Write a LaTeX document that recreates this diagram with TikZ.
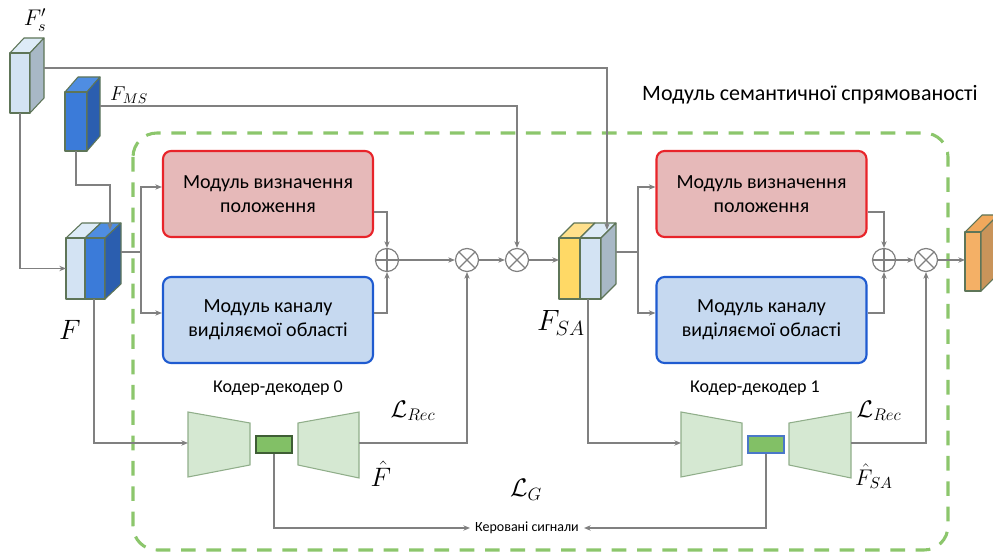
\RequirePackage{fix-cm}
\documentclass[tikz,border=0pt]{standalone}
\usepackage{fontspec}
\setmainfont{Carlito}
\usetikzlibrary{arrows.meta,calc}

\definecolor{linegray}{HTML}{808080}
\definecolor{edgegreen}{HTML}{5E7558}
\definecolor{paleblue}{HTML}{D3E3F3}
\definecolor{paleblueTop}{HTML}{DDEBF7}
\definecolor{paleblueSide}{HTML}{A8B8C6}
\definecolor{msblue}{HTML}{3B7BD9}
\definecolor{msblueTop}{HTML}{4F8DE2}
\definecolor{msblueSide}{HTML}{2B5EAF}
\definecolor{saYellow}{HTML}{FFD966}
\definecolor{saYellowTop}{HTML}{FFE08C}
\definecolor{outOrange}{HTML}{F4B066}
\definecolor{outOrangeTop}{HTML}{F0A85C}
\definecolor{outOrangeSide}{HTML}{C9945A}
\definecolor{posFill}{HTML}{E6B9B9}
\definecolor{posEdge}{HTML}{E8242A}
\definecolor{salFill}{HTML}{C6D9F0}
\definecolor{salEdge}{HTML}{1F5BD0}
\definecolor{codecFill}{HTML}{D5E8D2}
\definecolor{codecEdge}{HTML}{90AE8A}
\definecolor{latentFill}{HTML}{82C066}
\definecolor{latentEdge}{HTML}{3F5E35}
\definecolor{latentEdgeB}{HTML}{4A78C8}
\definecolor{moduleGreen}{HTML}{8CC66C}

% front and top faces of one slab of a feature block; depth in \cdx, \cdy
\newcommand\slabfront[6]{%
  \filldraw[blockedge,fill=#6] (#1,#3) -- ++(\cdx,-\cdy) -- ++({#2-#1},0) -- (#2,#3) -- cycle;
  \filldraw[blockedge,fill=#5] (#1,#3) rectangle (#2,#4);}
% right side face of a feature block
\newcommand\slabside[4]{%
  \filldraw[blockedge,fill=#4] (#1,#2) -- ++(\cdx,-\cdy) -- ({#1+\cdx},{#3-\cdy}) -- (#1,#3) -- cycle;}

\tikzset{
  conn/.style={draw=linegray, line width=0.9pt},
  arr/.style={conn, -{Stealth[length=5pt,width=4pt]}},
  blockedge/.style={draw=edgegreen, line width=0.8pt, line join=round},
  face/.style={inner sep=0pt, outer sep=0pt, draw=none},
  modbox/.style={rounded corners=6pt, line width=1.6pt, minimum width=157.5pt,
    minimum height=64.5pt, align=center, font=\fontsize{15}{18}\selectfont},
  posbox/.style={modbox, draw=posEdge, fill=posFill},
  salbox/.style={modbox, draw=salEdge, fill=salFill},
  opnode/.style={circle, draw=linegray, fill=white, line width=0.9pt,
    minimum size=17.25pt, inner sep=0pt},
  plusop/.style={opnode, path picture={\draw[linegray, line width=0.9pt]
    (path picture bounding box.north) -- (path picture bounding box.south)
    (path picture bounding box.west) -- (path picture bounding box.east);}},
  mulop/.style={opnode, path picture={\draw[linegray, line width=0.9pt]
    (path picture bounding box.north west) -- (path picture bounding box.south east)
    (path picture bounding box.north east) -- (path picture bounding box.south west);}},
  codec/.style={draw=codecEdge, fill=codecFill, line width=0.8pt},
  latent/.style={draw=latentEdge, fill=latentFill, line width=1pt, inner sep=0pt,
    minimum width=27pt, minimum height=12.75pt},
  caption/.style={font=\fontsize{13.5}{16}\selectfont},
  mathlbl/.style={inner sep=0pt, font=\fontsize{#1}{#1}\selectfont},
}

\begin{document}
\begin{tikzpicture}[x=0.75pt,y=-0.75pt]
\useasboundingbox (0,0) rectangle (993,555);
\clip (0,0) rectangle (993,555);

% module frame
\draw[moduleGreen, line width=2.3pt, dash pattern=on 11pt off 8pt, rounded corners=18pt]
  (133,133) rectangle (948,550);
\node[font=\fontsize{16.5}{20}\selectfont] (title) at (810,95) {Модуль семантичної спрямованості};

% feature blocks
\def\cdx{14}\def\cdy{15}
\slabfront{10}{30}{53}{113}{paleblue}{paleblueTop}
\slabside{30}{53}{113}{paleblueSide}
\node[face, minimum width=15pt, minimum height=45pt] (Fsp) at (20,83) {};

\def\cdx{13}\def\cdy{15}
\slabfront{65}{87}{92}{151}{msblue}{msblueTop}
\slabside{87}{92}{151}{msblueSide}
\node[face, minimum width=16.5pt, minimum height=44.25pt] (FMS) at (76,121.5) {};

\def\cdx{16}\def\cdy{15}
\slabfront{66}{85}{238}{299}{paleblue}{paleblueTop}
\slabfront{85}{105}{238}{299}{msblue}{msblueTop}
\slabside{105}{238}{299}{msblueSide}
\node[face, minimum width=29.25pt, minimum height=45.75pt] (F) at (85.5,268.5) {};

\def\cdx{15}\def\cdy{15}
\slabfront{559}{580}{238}{299}{saYellow}{saYellowTop}
\slabfront{580}{601}{238}{299}{paleblue}{paleblueTop}
\slabside{601}{238}{299}{paleblueSide}
\node[face, minimum width=31.5pt, minimum height=45.75pt] (FSA) at (580,268.5) {};

\def\cdx{17}\def\cdy{17}
\slabfront{965}{981}{232}{291}{outOrange}{outOrangeTop}
\slabside{981}{232}{291}{outOrangeSide}
\node[face, minimum width=12pt, minimum height=44.25pt] (Fout) at (973,261.5) {};

% block labels
\node[mathlbl=17] (lblFsp) at (35,20) {$F'_s$};
\node[mathlbl=15] (lblFMS) at (129,95) {$F_{MS}$};
\node[mathlbl=21] (lblF) at (70,330) {$F$};
\node[mathlbl=22] (lblFSA) at (561,323) {$F_{SA}$};

% module boxes
\node[posbox] (pos0) at (268,194) {Модуль визначення\\положення};
\node[salbox] (sal0) at (268,320) {Модуль каналу\\виділяємої області};
\node[posbox] (pos1) at (761.5,194) {Модуль визначення\\положення};
\node[salbox] (sal1) at (761.5,320) {Модуль каналу\\виділяємої області};

% fusion operators
\node[plusop] (add0) at (387,260) {};
\node[mulop] (mul0) at (467,260) {};
\node[mulop] (mul1) at (517,260) {};
\node[plusop] (add1) at (884,260) {};
\node[mulop] (mul2) at (926,260) {};

% encoder-decoders
\filldraw[codec] (188,412) -- (250,423) -- (250,465) -- (188,477) -- cycle;
\filldraw[codec] (298,423) -- (359,412) -- (359,478) -- (298,465) -- cycle;
\node[latent] (lat0) at (274,444.5) {};
\filldraw[codec] (681,412) -- (742,423) -- (742,465) -- (681,477) -- cycle;
\filldraw[codec] (789,423) -- (851,412) -- (851,478) -- (789,465) -- cycle;
\node[latent, draw=latentEdgeB] (lat1) at (766,444.5) {};
\coordinate (enc0in) at (188,443);
\coordinate (dec0out) at (359,443);
\coordinate (enc1in) at (681,443);
\coordinate (dec1out) at (851,443);

\node[caption] (cap0) at (278,388) {Кодер-декодер 0};
\node[caption] (cap1) at (755,388) {Кодер-декодер 1};
\node[mathlbl=18] (rec0) at (413,411) {$\mathcal{L}_{Rec}$};
\node[mathlbl=20] (hat0) at (381,474) {$\hat{F}$};
\node[mathlbl=18] (rec1) at (879,411) {$\mathcal{L}_{Rec}$};
\node[mathlbl=17] (hat1) at (874,476) {$\hat{F}_{SA}$};
\node[mathlbl=19] (lossG) at (526,490) {$\mathcal{L}_G$};
\node[font=\fontsize{10.5}{12}\selectfont] (sig) at (527,528) {Керовані сигнали};
\coordinate (sigL) at (470,528);
\coordinate (sigR) at (584,528);

% inputs
\coordinate (FspOut) at (44,68);
\coordinate (FMSOut) at (100,106);
\coordinate (FSAtop) at (607,230);
\coordinate (Ftop) at (110,230);
\coordinate (Fdrop) at (110,185);
\draw[arr] (FspOut) -| (FSAtop);
\draw[arr] (FMSOut) -| (mul1.north);
\draw[arr] (Fsp.south) |- (F.west);
\draw[arr] (FMS.south) |- (Fdrop) -- (Ftop);

% first encoder-decoder stage
\coordinate (FoutR) at (121,252);
\coordinate (Fsplit) at (141,252);
\coordinate (Fdown) at (94,299);
\draw[conn] (FoutR) -- (Fsplit);
\draw[arr] (Fsplit) |- ($(pos0.west)+(0,-7)$);
\draw[arr] (Fsplit) |- ($(sal0.west)+(0,-7)$);
\draw[arr] (Fdown) |- (enc0in);
\draw[arr] ($(pos0.east)+(0,18)$) -| (add0.north);
\draw[arr] ($(sal0.east)+(0,-7)$) -| (add0.south);
\draw[arr] (add0) -- (mul0);
\draw[arr] (mul0) -- (mul1);
\draw[arr] (mul1) -- (mul1 -| FSA.west);
\draw[arr] (dec0out) -| (mul0.south);
\draw[arr] (lat0.south) |- (sigL);

% second encoder-decoder stage
\coordinate (FSAoutR) at (616,252);
\coordinate (FSAsplit) at (638,252);
\coordinate (FSAdown) at (588,299);
\draw[conn] (FSAoutR) -- (FSAsplit);
\draw[arr] (FSAsplit) |- ($(pos1.west)+(0,-7)$);
\draw[arr] (FSAsplit) |- ($(sal1.west)+(0,-7)$);
\draw[arr] (FSAdown) |- (enc1in);
\draw[arr] ($(pos1.east)+(0,18)$) -| (add1.north);
\draw[arr] ($(sal1.east)+(0,-7)$) -| (add1.south);
\draw[arr] (add1) -- (mul2);
\draw[arr] (mul2) -- (mul2 -| Fout.west);
\draw[arr] (dec1out) -| (mul2.south);
\draw[arr] (lat1.south) |- (sigR);
\end{tikzpicture}
\end{document}
